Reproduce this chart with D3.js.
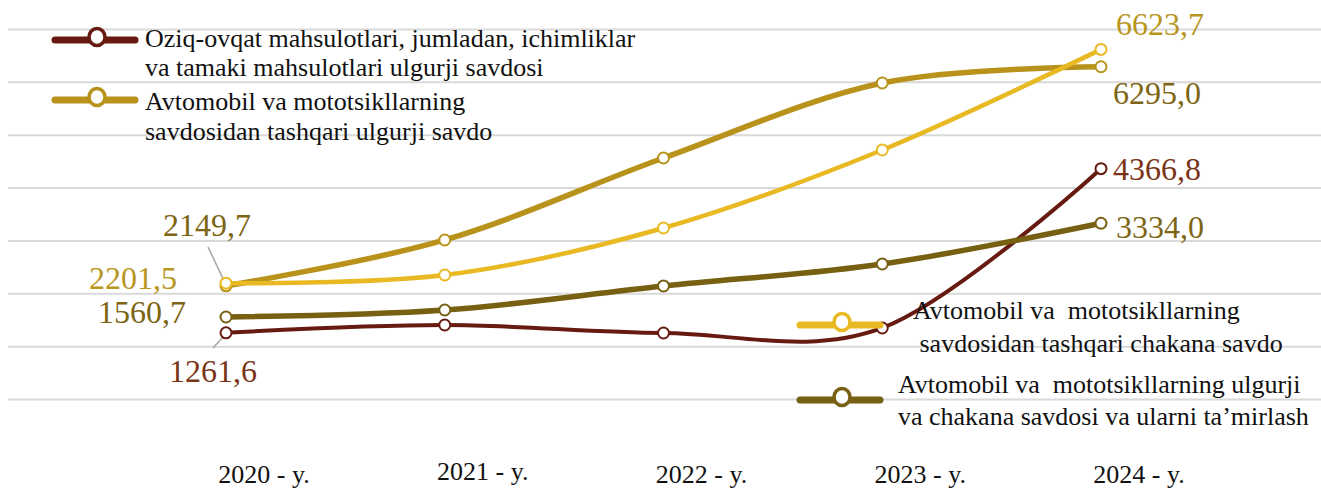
<!DOCTYPE html>
<html>
<head>
<meta charset="utf-8">
<script src="https://cdn.jsdelivr.net/npm/d3@7"></script>
<style>
  body { margin: 0; background: #fff; }
  svg text { white-space: pre; }
</style>
</head>
<body>
<svg id="chart" width="1321" height="493"></svg>
<script>
var categories = ["2020 - y.", "2021 - y.", "2022 - y.", "2023 - y.", "2024 - y."];
var oziqOvqat = [1261.6, 1409, 1258, 1353, 4366.8];
var ulgurjiSavdo = [2149.7, 3018, 4569, 5988, 6295.0];
var chakanaSavdo = [2201.5, 2355, 3245, 4721, 6623.7];
var tamirlash = [1560.7, 1693, 2148, 2564, 3334.0];
var yTicks = [0, 1000, 2000, 3000, 4000, 5000, 6000, 7000];

var seriesNames = [
  ["Oziq-ovqat mahsulotlari, jumladan, ichimliklar", "va tamaki mahsulotlari ulgurji savdosi"],
  ["Avtomobil va mototsikllarning", "savdosidan tashqari ulgurji savdo"],
  ["Avtomobil va  mototsikllarning", " savdosidan tashqari chakana savdo"],
  ["Avtomobil va  mototsikllarning ulgurji", "va chakana savdosi va ularni ta\u2019mirlash"]
];

var svg = d3.select("#chart");
var W = 1321, H = 493;
var serif = "'Liberation Serif', 'Times New Roman', serif";

var x = d3.scalePoint().domain(categories).range([226, 1101]);
var y = d3.scaleLinear().domain([0, 7000]).range([399.5, 29.5]);

// gridlines
svg.append("g").selectAll("line")
  .data(yTicks)
  .enter()
  .append("line")
  .attr("x1", 8).attr("x2", W)
  .attr("y1", function(d) { return y(d); })
  .attr("y2", function(d) { return y(d); })
  .attr("stroke", "#d9d9d9")
  .attr("stroke-width", 2);

// category labels
var labelNudge = [0, -3, 0, 0, 0];
svg.append("g").selectAll("text")
  .data(categories)
  .enter()
  .append("text")
  .attr("x", function(d) { return x(d) + 38; })
  .attr("y", function(d, i) { return 483 + labelNudge[i]; })
  .attr("text-anchor", "middle")
  .attr("font-family", serif)
  .attr("font-size", 26)
  .attr("fill", "#111")
  .text(function(d) { return d; });

var series = [
  { values: oziqOvqat, color: "#661a10", width: 4, label: "#7b3516" },
  { values: ulgurjiSavdo, color: "#b8921a", width: 5.5, label: "#7d6514" },
  { values: chakanaSavdo, color: "#e8b923", width: 4.5, label: "#b8961e" },
  { values: tamirlash, color: "#776012", width: 5.5, label: "#7d6514" }
];

var line = d3.line()
  .x(function(d, i) { return x(categories[i]); })
  .y(function(d) { return y(d); })
  .curve(d3.curveCatmullRom.alpha(0));

// leader lines for 2020 labels
svg.append("line")
  .attr("x1", 208).attr("y1", 247)
  .attr("x2", x(categories[0])).attr("y2", y(ulgurjiSavdo[0]) - 1)
  .attr("stroke", "#a6a6a6").attr("stroke-width", 1.5);
svg.append("line")
  .attr("x1", 213).attr("y1", 348)
  .attr("x2", x(categories[0])).attr("y2", y(oziqOvqat[0]) + 1)
  .attr("stroke", "#a6a6a6").attr("stroke-width", 1.5);

function legendItem(g, cx, cy, color, lines, tx, ty, lh) {
  g.append("line")
    .attr("x1", cx - 42).attr("x2", cx + 38)
    .attr("y1", cy + 3).attr("y2", cy + 3)
    .attr("stroke", color).attr("stroke-width", 7)
    .attr("stroke-linecap", "round");
  g.append("ellipse")
    .attr("cx", cx).attr("cy", cy)
    .attr("rx", 8).attr("ry", 8.5)
    .attr("fill", "#fff")
    .attr("stroke", color).attr("stroke-width", 3.5);
  g.selectAll(null)
    .data(lines)
    .enter()
    .append("text")
    .attr("x", tx)
    .attr("y", function(d, i) { return ty + i * lh; })
    .attr("font-family", serif)
    .attr("font-size", 26)
    .attr("fill", "#111")
    .text(function(d) { return d; });
}

var lg = svg.append("g");
legendItem(lg, 97, 37, series[0].color, seriesNames[0], 145, 47, 29);
legendItem(lg, 97, 97, series[1].color, seriesNames[1], 145, 110, 30);

var lineG = svg.append("g");
series.forEach(function(s) {
  lineG.append("path")
    .datum(s.values)
    .attr("d", line)
    .attr("fill", "none")
    .attr("stroke", s.color)
    .attr("stroke-width", s.width)
    .attr("stroke-linecap", "round");
  lineG.selectAll(null)
    .data(s.values)
    .enter()
    .append("circle")
    .attr("cx", function(d, i) { return x(categories[i]); })
    .attr("cy", function(d) { return y(d); })
    .attr("r", 5.5)
    .attr("fill", "#fff")
    .attr("stroke", s.color)
    .attr("stroke-width", 2);
});

var lg2 = svg.append("g");
legendItem(lg2, 842, 322, series[2].color, seriesNames[2], 913, 319, 33);
legendItem(lg2, 842, 397, series[3].color, seriesNames[3], 898, 393, 32);

// data labels
function fmt(v) { return d3.format(".1f")(v).replace(".", ","); }
var dataLabels = [
  { s: 2, i: 4, x: 1116, y: 35, anchor: "start" },
  { s: 1, i: 4, x: 1113, y: 104, anchor: "start" },
  { s: 0, i: 4, x: 1113, y: 180, anchor: "start" },
  { s: 3, i: 4, x: 1116, y: 238, anchor: "start" },
  { s: 1, i: 0, x: 207, y: 236, anchor: "middle" },
  { s: 2, i: 0, x: 177, y: 289, anchor: "end" },
  { s: 3, i: 0, x: 186, y: 323, anchor: "end" },
  { s: 0, i: 0, x: 213, y: 382, anchor: "middle" }
];
svg.append("g").selectAll("text")
  .data(dataLabels)
  .enter()
  .append("text")
  .attr("x", function(d) { return d.x; })
  .attr("y", function(d) { return d.y; })
  .attr("text-anchor", function(d) { return d.anchor; })
  .attr("font-family", serif)
  .attr("font-size", 32)
  .attr("fill", function(d) { return series[d.s].label; })
  .text(function(d) { return fmt(series[d.s].values[d.i]); });
</script>
</body>
</html>
